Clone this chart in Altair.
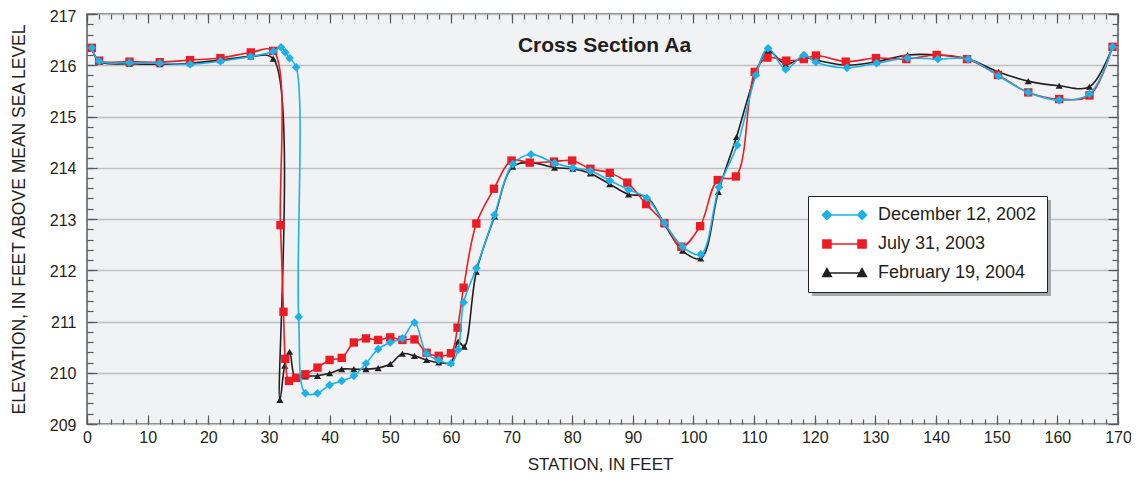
import altair as alt
import pandas as pd

# ---------------- data ----------------
series_names = ["December 12, 2002", "July 31, 2003", "February 19, 2004"]
series_colors = ["#1ab2e8", "#ed1c24", "#231f20"]

dec2002_station = [0.8, 2, 7, 12, 17, 22, 27, 30.7, 32, 32.7, 33.4, 34.5, 34.9,
                   36, 38, 40, 42, 44, 46, 48, 50, 52, 54, 56, 58, 60,
                   61.2, 62.1, 64.2, 67.2,
                   70.2, 73.2, 77.1, 80.1, 83, 86.2, 89.3, 92.3, 95.2, 98.2, 101.2, 104.2, 107.2,
                   110.3, 112.3, 115.2, 118.2, 120.2, 125.3,
                   130.2, 135.3, 140.3, 145.3, 150.3, 155.2, 160.3, 165.3, 169.1]
dec2002_elev = [216.34, 216.08, 216.05, 216.04, 216.02, 216.08, 216.17, 216.27, 216.35, 216.25, 216.14, 215.96, 211.09,
                209.6, 209.6, 209.76, 209.84, 209.94, 210.18, 210.46, 210.59, 210.67, 210.98, 210.37, 210.25, 210.18,
                210.45, 211.37, 212.04, 213.08,
                214.07, 214.26, 214.09, 214.0, 213.94, 213.75, 213.57, 213.41, 212.92, 212.46, 212.31, 213.62, 214.44,
                215.81, 216.33, 215.92, 216.2, 216.06, 215.95,
                216.04, 216.14, 216.12, 216.12, 215.79, 215.47, 215.32, 215.44, 216.36]

jul2003_station = [0.8, 2, 7, 12, 17, 22, 27, 30.7, 31.9, 32.4, 32.7, 33.3, 34.5,
                   36, 38, 40, 42, 44, 46, 48, 50, 52, 54, 56, 58, 60,
                   61.1, 62.1, 64.2, 67.1,
                   70, 73, 77, 80, 83, 86.2, 89.1, 92.2, 95.2, 98, 101.1, 104, 107,
                   110.1, 112.2, 115.3, 118.2, 120.2, 125.1,
                   130.1, 135.1, 140.1, 145.1, 150.2, 155.2, 160.3, 165.3, 169.1]
jul2003_elev = [216.34, 216.09, 216.07, 216.06, 216.1, 216.14, 216.25, 216.28, 212.88, 211.19, 210.27, 209.84, 209.9,
                209.97, 210.1, 210.25, 210.29, 210.59, 210.67, 210.64, 210.69, 210.64, 210.65, 210.39, 210.33, 210.38,
                210.88, 211.66, 212.91, 213.59,
                214.14, 214.1, 214.12, 214.14, 213.98, 213.9, 213.71, 213.29, 212.92, 212.46, 212.86, 213.76, 213.83,
                215.87, 216.15, 216.09, 216.12, 216.19, 216.07,
                216.14, 216.12, 216.2, 216.12, 215.81, 215.47, 215.34, 215.41, 216.36]

feb2004_station = [0.8, 2, 7, 12, 17, 22, 27, 30.7, 31.8, 32.6, 33.4, 34.4,
                   36, 38, 40, 42, 44, 46, 48, 50, 52, 54, 56, 58, 60,
                   61.2, 62.2, 64.2, 67.2,
                   70.2, 73.2, 77.1, 80.1, 83, 86.2, 89.3, 92.3, 95.2, 98.2, 101.2, 104.1, 107.1,
                   110.3, 112.3, 115.2, 118.2, 120.2, 125.3,
                   130.2, 135.3, 140.3, 145.3, 150.3, 155.2, 160.3, 165.3, 169.1]
feb2004_elev = [216.34, 216.07, 216.03, 216.02, 216.04, 216.1, 216.17, 216.13, 209.47, 210.14, 210.41, 209.88,
                209.93, 209.94, 209.99, 210.07, 210.07, 210.07, 210.09, 210.17, 210.37, 210.33, 210.25, 210.2, 210.2,
                210.61, 210.51, 211.97, 213.05,
                214.02, 214.1, 214.0, 213.98, 213.89, 213.68, 213.48, 213.43, 212.9, 212.38, 212.23, 213.53, 214.6,
                215.84, 216.28, 216.02, 216.15, 216.1, 216.0,
                216.07, 216.2, 216.2, 216.12, 215.87, 215.69, 215.6, 215.58, 216.36]

x_major = list(range(0, 171, 10))
x_minor = list(range(0, 171, 2))
y_major = list(range(209, 218))
y_minor = [round(209 + 0.2 * i, 1) for i in range(41)]

# ---------------- tables ----------------
df_dec = pd.DataFrame({"station": dec2002_station, "elevation": dec2002_elev, "series": series_names[0]})
df_jul = pd.DataFrame({"station": jul2003_station, "elevation": jul2003_elev, "series": series_names[1]})
df_feb = pd.DataFrame({"station": feb2004_station, "elevation": feb2004_elev, "series": series_names[2]})
df_all = pd.concat([df_dec, df_jul, df_feb], ignore_index=True)

FONT = "Liberation Sans"
TXT = "#231f20"
TICK = "#58595b"

xscale = alt.Scale(domain=[0, 170], nice=False, zero=False)
yscale = alt.Scale(domain=[209, 217], nice=False, zero=False)


def tick_axis(orient, values, size, **kw):
    base = dict(orient=orient, values=values, offset=-size, tickSize=size, tickColor=TICK,
                tickWidth=1.2, domain=False, grid=False, labels=False, title=None)
    base.update(kw)
    return alt.Axis(**base)


ax_bottom_major = tick_axis(
    "bottom", x_major, 9, labels=True, labelFontSize=16, labelFont=FONT, labelColor=TXT,
    labelPadding=5, labelFlush=False, format="d",
    title="STATION, IN FEET", titleFont=FONT, titleFontSize=17, titleFontWeight="normal",
    titleColor=TXT, titleX=513, titleY=54.5, titleBaseline="alphabetic", titleAlign="center")
ax_bottom_minor = tick_axis("bottom", x_minor, 5)
ax_top_major = tick_axis(
    "top", x_major, 9,
    title="Cross Section Aa", titleFont=FONT, titleFontSize=21, titleFontWeight="bold",
    titleColor=TXT, titleX=517, titleY=28, titleBaseline="alphabetic", titleAlign="center")
ax_top_minor = tick_axis("top", x_minor, 5)

ax_left_major = tick_axis(
    "left", y_major, 10, labels=True, labelFontSize=16, labelFont=FONT, labelColor=TXT,
    labelPadding=11, format="d", grid=True, gridColor="#bfc0c2", gridWidth=1.5,
    labelOffset={"condition": {"test": "datum.value == 217", "value": 2.5}, "value": 1},
    title="ELEVATION, IN FEET ABOVE MEAN SEA LEVEL", titleFont=FONT, titleFontSize=17.5,
    titleFontWeight="normal", titleColor=TXT, titleX=-78, titleY=205, titleAngle=-90,
    titleBaseline="middle", titleAlign="center")
ax_left_minor = tick_axis("left", y_minor, 6)
ax_right_major = tick_axis("right", y_major, 10)
ax_right_minor = tick_axis("right", y_minor, 6)


def xy(xaxis, yaxis):
    return dict(
        x=alt.X("station:Q", scale=xscale, axis=xaxis),
        y=alt.Y("elevation:Q", scale=yscale, axis=yaxis),
    )


def line_layer(df, color, xaxis=None, yaxis=None):
    return alt.Chart(df).mark_line(interpolate="catmull-rom", color=color, strokeWidth=1.6).encode(
        **xy(xaxis, yaxis))


def point_layer(df, color, shape, size, xaxis=None, yaxis=None):
    return alt.Chart(df).mark_point(filled=True, shape=shape, size=size, color=color, opacity=1).encode(
        **xy(xaxis, yaxis))


legend_paths = [
    "M-3.9,0H3.9M-3.9,-1L-2.9,0L-3.9,1L-4.9,0ZM3.9,-1L4.9,0L3.9,1L2.9,0Z",
    "M-3.9,0H3.9M-4.8,-0.9H-3V0.9H-4.8ZM3,-0.9H4.8V0.9H3Z",
    "M-3.9,0H3.9M-3.9,-1L-2.95,0.75L-4.85,0.75ZM3.9,-1L4.85,0.75L2.95,0.75Z",
]

LEG_X, LEG_Y = 721, 182
leg = dict(orient="none", legendX=LEG_X, legendY=LEG_Y, title=None, fillColor="white",
           strokeColor=TXT, padding=10, symbolSize=81, symbolStrokeWidth=1.5,
           symbolOffset=17.5, labelOffset=24.5, labelFontSize=18, labelFont=FONT,
           labelColor=TXT, rowPadding=11, labelLimit=400)

legend_layer = alt.Chart(df_all).transform_filter("false").mark_point(filled=True, opacity=1).encode(
    **xy(None, None),
    shape=alt.Shape("series:N", scale=alt.Scale(domain=series_names, range=legend_paths),
                    legend=alt.Legend(**leg)),
    fill=alt.Fill("series:N", scale=alt.Scale(domain=series_names, range=series_colors),
                  legend=alt.Legend(**leg)),
    stroke=alt.Stroke("series:N", scale=alt.Scale(domain=series_names, range=series_colors),
                      legend=alt.Legend(**leg)),
)

# grey drop shadow behind the legend box (decoration only)
shadow_layer = alt.Chart(df_all).mark_rect(color="#a7a9ac", opacity=1).encode(
    x=alt.value(LEG_X + 4), x2=alt.value(LEG_X + 4 + 239),
    y=alt.value(LEG_Y + 4), y2=alt.value(LEG_Y + 4 + 96),
)

chart = alt.layer(
    line_layer(df_feb, series_colors[2], ax_bottom_major, ax_left_major),
    point_layer(df_feb, series_colors[2], "triangle-up", 50, ax_bottom_minor, ax_left_minor),
    line_layer(df_jul, series_colors[1], ax_top_major, ax_right_major),
    point_layer(df_jul, series_colors[1], "square", 70, ax_top_minor, ax_right_minor),
    line_layer(df_dec, series_colors[0]),
    point_layer(df_dec, series_colors[0], "diamond", 75),
    shadow_layer,
    legend_layer,
).resolve_axis(
    x="independent", y="independent"
).properties(
    width=1031, height=410,
    autosize=alt.AutoSizeParams(type="none"),
    padding={"left": 79, "top": 6, "right": 13, "bottom": 50},
    background="white",
).configure_view(
    fill="#f1f2f4", stroke="#58595b", strokeWidth=1.5
)

chart.save("out.html", embed_options={"renderer": "svg", "actions": False})
